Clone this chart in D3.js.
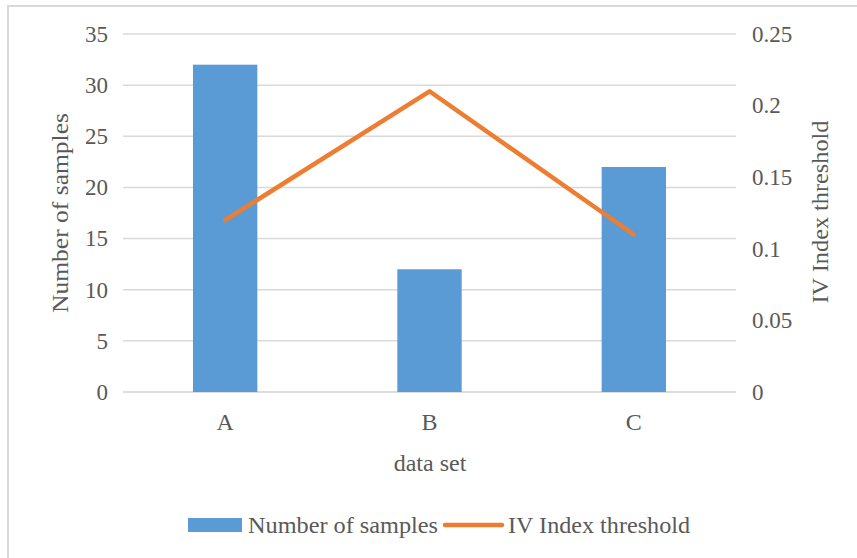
<!DOCTYPE html>
<html>
<head>
<meta charset="utf-8">
<script src="https://cdn.jsdelivr.net/npm/d3@7"></script>
<style>
  html, body { margin: 0; padding: 0; background: #fff; }
  svg { display: block; }
  svg text { font-family: "Liberation Serif", "Times New Roman", Times, Tinos, "DejaVu Serif", serif !important; fill: #595959; }
</style>
</head>
<body>
<svg id="chart" width="857" height="558"></svg>
<script>
const categories = ["A", "B", "C"];
const sampleCounts = [32, 12, 22];
const ivThresholds = [0.12, 0.21, 0.11];
const leftTicks = [0, 5, 10, 15, 20, 25, 30, 35];
const rightTicks = [0, 0.05, 0.1, 0.15, 0.2, 0.25];
const seriesNames = ["Number of samples", "IV Index threshold"];

const svg = d3.select("#chart");
const W = 857, H = 558;
const plot = { left: 123, right: 736, top: 34, bottom: 392 };
const FONT = '"Liberation Serif", "Times New Roman", Times, Tinos, "DejaVu Serif", serif';

svg.append("rect").attr("width", W).attr("height", H).attr("fill", "#fff");
svg.append("rect").attr("x", 8).attr("y", 6).attr("width", 900).attr("height", 600)
  .attr("fill", "#fff").attr("stroke", "#d9d9d9").attr("stroke-width", 2);

const x = d3.scaleBand().domain(categories).range([plot.left, plot.right]).paddingInner(0.685).paddingOuter(0.3425);
const yL = d3.scaleLinear().domain([0, 35]).range([plot.bottom, plot.top]);
const yR = d3.scaleLinear().domain([0, 0.25]).range([plot.bottom, plot.top]);

svg.append("g").selectAll("line").data(leftTicks).join("line")
  .attr("x1", plot.left).attr("x2", plot.right)
  .attr("y1", d => yL(d)).attr("y2", d => yL(d))
  .attr("stroke", d => d === 0 ? "#d0d0d0" : "#d9d9d9").attr("stroke-width", 1.5);

const gL = svg.append("g").attr("transform", `translate(${plot.left},0)`)
  .call(d3.axisLeft(yL).tickValues(leftTicks).tickSize(0).tickPadding(15).tickFormat(d3.format("d")));
gL.attr("font-family", FONT);
gL.select(".domain").remove();
gL.selectAll("text").attr("font-size", 23).style("font-family", FONT).attr("fill", "#595959");

const gR = svg.append("g").attr("transform", `translate(${plot.right},0)`)
  .call(d3.axisRight(yR).tickValues(rightTicks).tickSize(0).tickPadding(16).tickFormat(d => d === 0 ? "0" : String(+d.toFixed(2))));
gR.attr("font-family", FONT);
gR.select(".domain").remove();
gR.selectAll("text").attr("font-size", 23).style("font-family", FONT).attr("fill", "#595959");

const gB = svg.append("g").attr("transform", `translate(0,${plot.bottom})`)
  .call(d3.axisBottom(x).tickSize(0).tickPadding(21));
gB.attr("font-family", FONT);
gB.select(".domain").remove();
gB.selectAll("text").attr("font-size", 24).style("font-family", FONT).attr("fill", "#595959");

svg.append("g").selectAll("rect").data(categories).join("rect")
  .attr("x", d => x(d)).attr("width", x.bandwidth())
  .attr("y", (d, i) => yL(sampleCounts[i]))
  .attr("height", (d, i) => plot.bottom - yL(sampleCounts[i]))
  .attr("fill", "#5b9bd5");

const line = d3.line().x((d, i) => x(categories[i]) + x.bandwidth() / 2).y(d => yR(d));
svg.append("path").datum(ivThresholds).attr("d", line)
  .attr("fill", "none").attr("stroke", "#ed7d31").attr("stroke-width", 4.5)
  .attr("stroke-linejoin", "round").attr("stroke-linecap", "round");

svg.append("text").attr("transform", "translate(68,213) rotate(-90)")
  .attr("text-anchor", "middle").attr("font-size", 24).style("font-family", FONT)
  .attr("textLength", 200).attr("lengthAdjust", "spacingAndGlyphs")
  .text(seriesNames[0]);
svg.append("text").attr("transform", "translate(828,212) rotate(-90)")
  .attr("text-anchor", "middle").attr("font-size", 24).style("font-family", FONT)
  .attr("textLength", 183).attr("lengthAdjust", "spacingAndGlyphs")
  .text(seriesNames[1]);
svg.append("text").attr("x", 430).attr("y", 471)
  .attr("text-anchor", "middle").attr("font-size", 24).style("font-family", FONT)
  .text("data set");

const lg = svg.append("g");
lg.append("rect").attr("x", 188).attr("y", 518).attr("width", 54).attr("height", 14).attr("fill", "#5b9bd5");
lg.append("text").attr("x", 248).attr("y", 533).attr("font-size", 24).style("font-family", FONT)
  .attr("textLength", 190).attr("lengthAdjust", "spacingAndGlyphs").text(seriesNames[0]);
lg.append("line").attr("x1", 445).attr("x2", 502).attr("y1", 525).attr("y2", 525)
  .attr("stroke", "#ed7d31").attr("stroke-width", 4.5).attr("stroke-linecap", "round");
lg.append("text").attr("x", 508).attr("y", 533).attr("font-size", 24).style("font-family", FONT)
  .attr("textLength", 182).attr("lengthAdjust", "spacingAndGlyphs").text(seriesNames[1]);
</script>
</body>
</html>
